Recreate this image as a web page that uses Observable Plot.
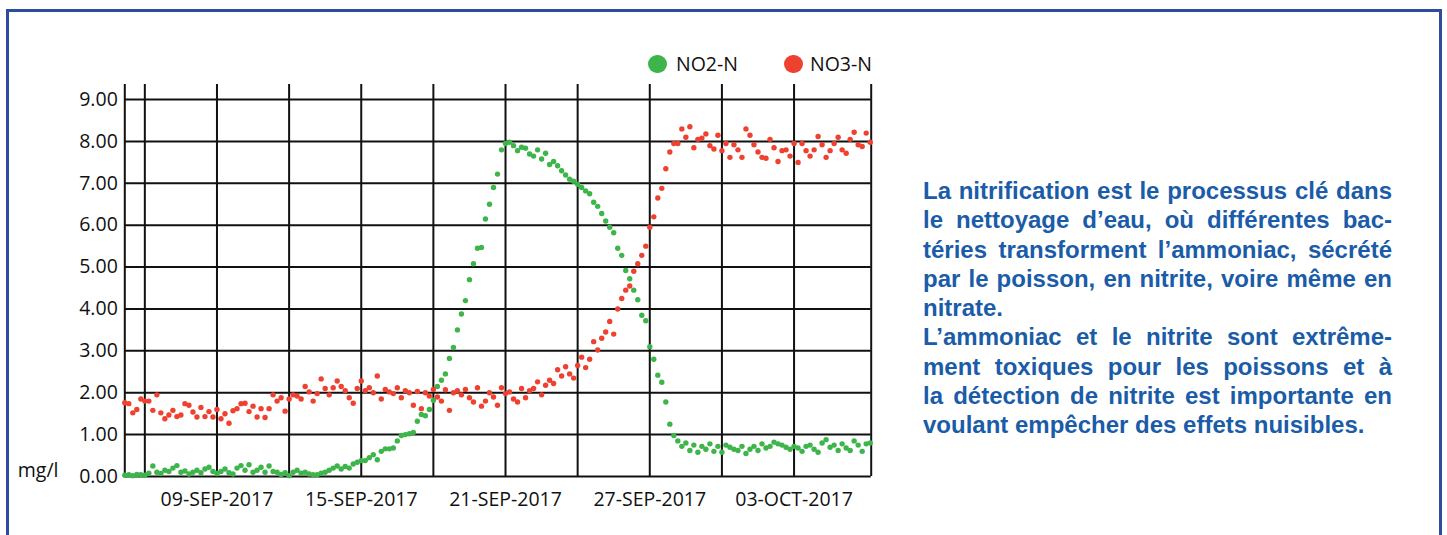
<!DOCTYPE html>
<html><head><meta charset="utf-8">
<script src="https://cdn.jsdelivr.net/npm/d3@7"></script>
<script src="https://cdn.jsdelivr.net/npm/@observablehq/plot@0.6"></script>
<style>
html,body{margin:0;padding:0;background:#fff;width:1447px;height:535px;overflow:hidden;position:relative;}
#frame{position:absolute;left:6px;top:9px;width:1430px;height:600px;border:3px solid #2e4c9e;border-bottom:none;}
#chart{position:absolute;left:0;top:0;}
.leg{position:absolute;top:51px;font-family:"Open Sans";font-size:19.5px;color:#111;line-height:26px;}
.sw{position:absolute;width:18.6px;height:18.6px;border-radius:50%;top:54.7px;}
#note{position:absolute;left:923px;top:176px;width:469px;font-family:"Liberation Sans",Arial,sans-serif;font-weight:bold;font-size:24px;line-height:29.25px;color:#1a5ca8;}
#note div{text-align:justify;text-align-last:justify;}
#note div.end{text-align-last:left;}
</style></head>
<body>
<div id="frame"></div>
<div id="chart"></div>
<div id="legend"></div>
<div id="note"></div>
<script>
// sampling of the measurements
const sampleStart = "2017-09-05T04:00Z";
const sampleHours = 4;

// NO2-N (mg/l), one row per day, 6 readings per day
const no2 = [
  0.03, 0.04, 0.02, 0.05, 0.04, 0.03,
  0.08, 0.25, 0.10, 0.07, 0.15, 0.12,
  0.20, 0.26, 0.10, 0.13, 0.06, 0.10,
  0.15, 0.09, 0.18, 0.22, 0.12, 0.07,
  0.12, 0.18, 0.09, 0.06, 0.20, 0.26,
  0.15, 0.28, 0.10, 0.15, 0.22, 0.10,
  0.25, 0.12, 0.10, 0.05, 0.09, 0.02,
  0.10, 0.15, 0.08, 0.10, 0.06, 0.04,
  0.04, 0.08, 0.10, 0.15, 0.20, 0.25,
  0.18, 0.24, 0.20, 0.30, 0.34, 0.38,
  0.38, 0.45, 0.52, 0.40, 0.60, 0.66,
  0.66, 0.68, 0.85, 0.98, 1.00, 1.02,
  1.05, 1.32, 1.48, 1.45, 1.60, 1.82,
  2.15, 2.30, 2.45, 2.82, 3.08, 3.50,
  3.88, 4.20, 4.70, 5.08, 5.45, 5.47,
  6.15, 6.50, 6.90, 7.22, 7.80, 7.95,
  7.98, 7.90, 7.78, 7.86, 7.84, 7.70,
  7.65, 7.80, 7.58, 7.72, 7.45, 7.52,
  7.42, 7.30, 7.20, 7.10, 7.05, 6.98,
  6.90, 6.82, 6.75, 6.55, 6.45, 6.28,
  6.10, 5.95, 5.82, 5.45, 5.28, 4.92,
  4.72, 4.45, 4.22, 3.85, 3.72, 3.10,
  2.80, 2.42, 2.25, 1.78, 1.25, 0.98,
  0.85, 0.72, 0.80, 0.62, 0.75, 0.58,
  0.72, 0.65, 0.78, 0.60, 0.72, 0.58,
  0.75, 0.70, 0.65, 0.62, 0.72, 0.55,
  0.65, 0.72, 0.62, 0.78, 0.68, 0.72,
  0.82, 0.78, 0.75, 0.70, 0.65, 0.72,
  0.68, 0.60, 0.72, 0.75, 0.65, 0.58,
  0.80, 0.88, 0.70, 0.75, 0.62, 0.78,
  0.68, 0.62, 0.85, 0.75, 0.60, 0.78,
  0.80
];

// NO3-N (mg/l)
const no3 = [
  1.76, 1.74, 1.52, 1.60, 1.85, 1.80,
  1.80, 1.58, 1.95, 1.52, 1.38, 1.47,
  1.58, 1.43, 1.47, 1.74, 1.70, 1.54,
  1.42, 1.65, 1.43, 1.55, 1.42, 1.60,
  1.38, 1.50, 1.27, 1.57, 1.62, 1.74,
  1.75, 1.55, 1.68, 1.42, 1.62, 1.41,
  1.62, 1.95, 1.80, 1.88, 1.56, 1.85,
  1.95, 1.92, 1.85, 2.15, 2.02, 1.80,
  1.98, 2.33, 2.10, 1.95, 2.12, 2.28,
  2.15, 2.05, 1.88, 1.75, 2.10, 2.28,
  2.05, 2.12, 2.00, 2.40, 1.85, 2.08,
  2.02, 1.98, 2.12, 1.88, 2.05, 2.00,
  1.70, 2.03, 1.62, 2.00, 1.92, 2.08,
  1.90, 1.80, 2.07, 1.58, 2.00, 2.05,
  1.95, 2.08, 1.88, 1.78, 2.12, 1.68,
  1.80, 2.00, 1.90, 1.70, 2.12, 1.98,
  2.02, 1.85, 1.78, 2.10, 1.88, 2.05,
  2.10, 2.26, 1.95, 2.18, 2.30, 2.22,
  2.55, 2.40, 2.62, 2.45, 2.35, 2.65,
  2.85, 2.60, 2.80, 3.22, 3.02, 3.30,
  3.45, 3.70, 3.40, 4.00, 4.25, 4.45,
  4.55, 4.90, 5.08, 5.28, 5.50, 5.95,
  6.20, 6.65, 6.88, 7.35, 7.75, 7.95,
  7.95, 8.30, 8.10, 8.35, 7.85, 8.05,
  8.08, 8.18, 7.90, 7.82, 8.15, 7.78,
  7.95, 7.62, 7.92, 7.80, 7.62, 8.30,
  8.15, 7.92, 7.75, 7.62, 7.60, 8.05,
  7.85, 7.52, 7.78, 7.80, 7.65, 7.95,
  7.50, 7.95, 7.78, 7.65, 7.80, 8.12,
  7.92, 7.62, 7.78, 7.95, 8.10, 7.80,
  7.72, 8.05, 8.22, 7.92, 7.88, 8.20,
  7.98
];

const seriesNames = ["NO2-N", "NO3-N"];
const seriesColors = ["#3db54a", "#ee4130"];
const yTicks = [0, 1, 2, 3, 4, 5, 6, 7, 8, 9];
const yUnit = "mg/l";
const xDomain = ["2017-09-05T04:00Z", "2017-10-06T05:00Z"];
const gridDates = ["2017-09-06", "2017-09-09", "2017-09-12", "2017-09-15", "2017-09-18",
                   "2017-09-21", "2017-09-24", "2017-09-27", "2017-09-30", "2017-10-03"];
const labelDates = ["2017-09-09", "2017-09-15", "2017-09-21", "2017-09-27", "2017-10-03"];
const noteLines = [
  "La nitrification est le processus clé dans",
  "le nettoyage d’eau, où différentes bac-",
  "téries transforment l’ammoniac, sécrété",
  "par le poisson, en nitrite, voire même en",
  "nitrate.",
  "L’ammoniac et le nitrite sont extrême-",
  "ment toxiques pour les poissons et à",
  "la détection de nitrite est importante en",
  "voulant empêcher des effets nuisibles."
];
const paragraphEnds = [4, 8];

// build rows
const t0 = new Date(sampleStart).getTime();
const rows = [];
[no2, no3].forEach((vals, k) => {
  vals.forEach((v, i) => rows.push({t: new Date(t0 + i * sampleHours * 3600e3), v, s: seriesNames[k]}));
});

const fmt = d => d3.utcFormat("%d-%b-%Y")(d).toUpperCase();
const FS = 19.5;

const chart = Plot.plot({
  width: 900, height: 535,
  marginLeft: 124.3, marginRight: 29.3, marginTop: 84, marginBottom: 59,
  style: {fontFamily: "Open Sans", fontSize: FS + "px", color: "#111", background: "transparent", overflow: "visible"},
  x: {type: "utc", domain: xDomain.map(d => new Date(d))},
  y: {domain: [0, 9.36]},
  color: {domain: seriesNames, range: seriesColors},
  marks: [
    Plot.ruleY(yTicks, {stroke: "#111", strokeWidth: 2}),
    Plot.ruleX([...xDomain, ...gridDates].map(d => new Date(d)), {stroke: "#111", strokeWidth: 2}),
    Plot.axisY(yTicks, {tickSize: 0, tickPadding: 7, tickFormat: d => d.toFixed(2), label: null, fontSize: FS}),
    Plot.axisX(labelDates.map(d => new Date(d)), {tickSize: 0, tickPadding: 16, tickFormat: fmt, label: null, fontSize: FS}),
    Plot.dot(rows, {x: "t", y: "v", fill: "s", r: 2.7}),
    Plot.text([yUnit], {text: d => d, frameAnchor: "bottom-left", dx: -107, textAnchor: "start", fontSize: FS, fill: "#111"})
  ]
});
document.getElementById("chart").appendChild(chart);

// legend
const legend = document.getElementById("legend");
const legPos = [[657.3, 676], [793.3, 810]];
seriesNames.forEach((name, k) => {
  const sw = document.createElement("div");
  sw.className = "sw";
  sw.style.left = (legPos[k][0] - 9.3) + "px";
  sw.style.background = seriesColors[k];
  legend.appendChild(sw);
  const tx = document.createElement("div");
  tx.className = "leg";
  tx.style.left = legPos[k][1] + "px";
  tx.textContent = name;
  legend.appendChild(tx);
});

// note text
const note = document.getElementById("note");
noteLines.forEach((line, i) => {
  const d = document.createElement("div");
  d.textContent = line;
  if (paragraphEnds.includes(i)) d.className = "end";
  note.appendChild(d);
});
</script>
</body></html>
